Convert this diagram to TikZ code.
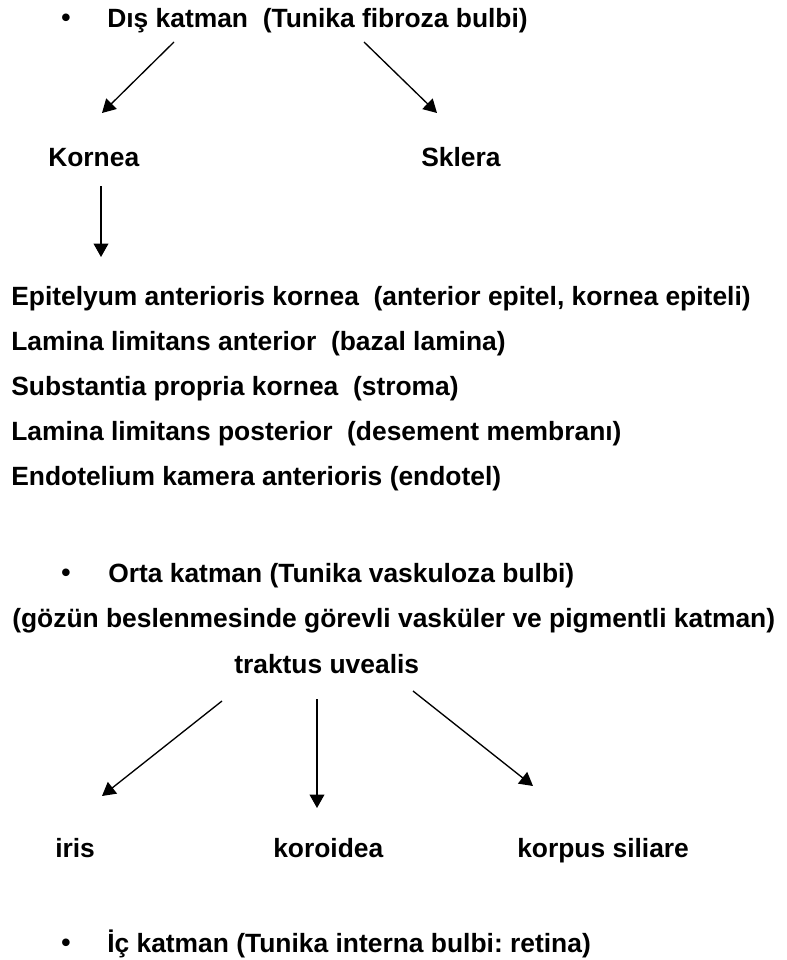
\documentclass[tikz,border=0pt]{standalone}
\usepackage{fontspec}
\setmainfont{Liberation Sans}
\usepackage{tikz}
\usetikzlibrary{arrows.meta,positioning}
\frenchspacing
\tikzstyle{entry} = [anchor=base west, inner sep=0pt, font=\fontsize{19.8}{22}\selectfont\bfseries]
\tikzstyle{dot} = [inner sep=0pt, font=\fontsize{19.8}{22}\selectfont\bfseries]
\tikzstyle{line} = [draw, line width=1pt, -{Triangle[length=10pt, width=11pt]}]

\begin{document}
\begin{tikzpicture}[x=0.75pt, y=-0.75pt]
    \useasboundingbox (0,0) rectangle (787,960);
    % outer layer
    \node [dot] (dot1) at (66,20) {\textbullet};
    \node [entry] (outer) at (107,27) {Dış katman\ \ (Tunika fibroza bulbi)};
    \node [entry] (kornea) at (48,166) {Kornea};
    \node [entry] (sklera) at (421,166) {Sklera};
    \node [entry] (epi) at (11,305) {Epitelyum anterioris kornea\ \ (anterior epitel, kornea epiteli)};
    \node [entry] (lamant) at (11,350) {Lamina limitans anterior\ \ (bazal lamina)};
    \node [entry] (subst) at (11,395) {Substantia propria kornea\ \ (stroma)};
    \node [entry] (lampost) at (11,440) {Lamina limitans posterior\ \ (desement membranı)};
    \node [entry] (endo) at (11,485) {Endotelium kamera anterioris (endotel)};

    % middle layer
    \node [dot] (dot2) at (66,575) {\textbullet};
    \node [entry] (middle) at (108,582) {Orta katman (Tunika vaskuloza bulbi)};
    \node [entry] (note) at (12,627) {(gözün beslenmesinde görevli vasküler ve pigmentli katman)};
    \node [entry] (uvea) at (234,673) {traktus uvealis};
    \node [entry] (iris) at (55,857) {iris};
    \node [entry] (koroid) at (273,857) {koroidea};
    \node [entry] (korpus) at (517,857) {korpus siliare};

    % inner layer
    \node [dot] (dot3) at (66,945) {\textbullet};
    \node [entry] (inner) at (107,952) {İç katman (Tunika interna bulbi: retina)};

    \coordinate (o1) at (174,42);  \coordinate (k1) at (102,113);
    \coordinate (o2) at (364,42);  \coordinate (s1) at (437,113);
    \coordinate (k2) at (101,186); \coordinate (e1) at (101,257);
    \coordinate (u1) at (222,701); \coordinate (i1) at (102,796);
    \coordinate (u2) at (317,699); \coordinate (c1) at (317,808);
    \coordinate (u3) at (413,691); \coordinate (p1) at (533,786);

    \path [line] (o1) -- (k1);
    \path [line] (o2) -- (s1);
    \path [line] (k2) -- (e1);
    \path [line] (u1) -- (i1);
    \path [line] (u2) -- (c1);
    \path [line] (u3) -- (p1);
\end{tikzpicture}
\end{document}
